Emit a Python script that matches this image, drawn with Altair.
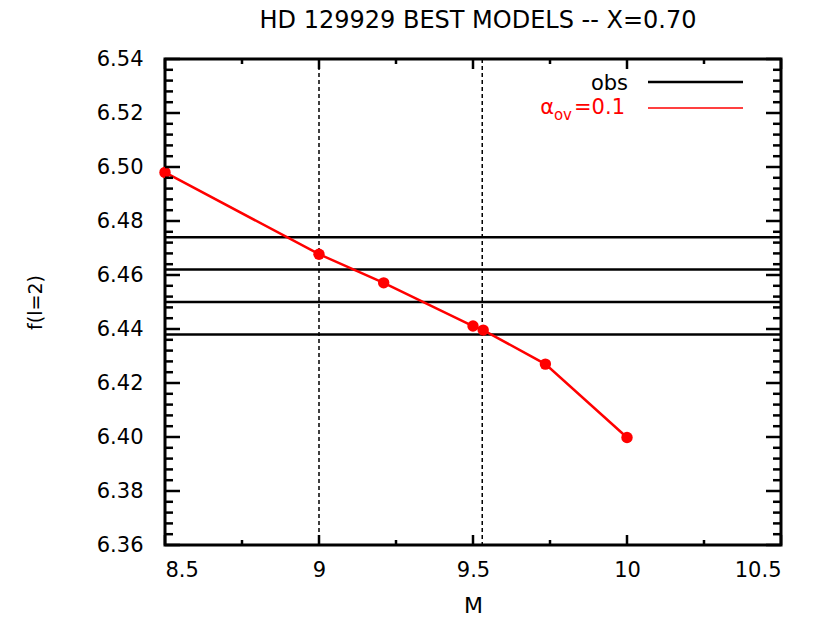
import altair as alt
import pandas as pd

# Model track: stellar mass vs. l=2 mode frequency
mass = [8.5, 9.0, 9.21, 9.50, 9.533, 9.735, 10.0]
freq = [6.498, 6.4677, 6.4571, 6.4411, 6.4396, 6.4270, 6.3998]

# Observed frequencies (horizontal lines)
obs_freq = [6.474, 6.462, 6.450, 6.438]

# Mass bounds (vertical dashed lines)
mass_bounds = [9.0, 9.53]

# Axis tick positions
x_major = [8.5, 9.0, 9.5, 10.0, 10.5]
x_minor = [8.75, 9.25, 9.75, 10.25]
y_major = [6.36, 6.38, 6.40, 6.42, 6.44, 6.46, 6.48, 6.50, 6.52, 6.54]
y_minor = [round(6.36 + 0.004 * i, 3) for i in range(46) if i % 5 != 0]

W, H = 616, 486
FONT = "DejaVu Sans"
RED = "#ff0000"

xs = alt.Scale(domain=[8.5, 10.5], nice=False, zero=False)
ys = alt.Scale(domain=[6.36, 6.54], nice=False, zero=False)

model = pd.DataFrame({"M": mass, "f": freq})
obs = pd.DataFrame({"f": obs_freq})
bounds = pd.DataFrame({"M": mass_bounds})

x_axis = alt.Axis(values=x_major, format="~g", grid=False, domain=False, ticks=False,
                  tickSize=0, labelPadding=14, labelFont=FONT, labelFontSize=21,
                  labelColor="black", title="M", titleFont=FONT, titleFontSize=22,
                  titleFontWeight="normal", titleColor="black", titleY=67,
                  titleBaseline="alphabetic")
y_axis = alt.Axis(values=y_major, format=".2f", grid=False, domain=False, ticks=False,
                  tickSize=0, labelPadding=22, labelFont=FONT, labelFontSize=21,
                  labelColor="black", title="f(l=2)", titleFont=FONT, titleFontSize=19,
                  titleFontWeight="normal", titleColor="black", titleAngle=270,
                  titleX=-130, titleY=H / 2, titleAlign="center", titleBaseline="middle")

obs_lines = alt.Chart(obs).mark_rule(color="black", strokeWidth=2.5).encode(
    y=alt.Y("f:Q", scale=ys, axis=y_axis),
)

dashed = alt.Chart(bounds).mark_rule(color="black", strokeWidth=1.5, strokeDash=[4, 3]).encode(
    x=alt.X("M:Q", scale=xs, axis=x_axis),
)

track = alt.Chart(model).mark_line(color=RED, strokeWidth=2.5).encode(
    x=alt.X("M:Q", scale=xs),
    y=alt.Y("f:Q", scale=ys),
)

dots = alt.Chart(model).mark_circle(color=RED, opacity=1, size=130).encode(
    x=alt.X("M:Q", scale=xs),
    y=alt.Y("f:Q", scale=ys),
)


def yticks(values, length):
    d = pd.DataFrame({"v": values})
    left = alt.Chart(d).mark_rule(color="black", strokeWidth=2.5).encode(
        y=alt.Y("v:Q", scale=ys), x=alt.value(0), x2=alt.value(length))
    right = alt.Chart(d).mark_rule(color="black", strokeWidth=2.5).encode(
        y=alt.Y("v:Q", scale=ys), x=alt.value(W), x2=alt.value(W - length))
    return [left, right]


def xticks(values, length):
    d = pd.DataFrame({"v": values})
    bottom = alt.Chart(d).mark_rule(color="black", strokeWidth=2.5).encode(
        x=alt.X("v:Q", scale=xs), y=alt.value(H), y2=alt.value(H - length))
    top = alt.Chart(d).mark_rule(color="black", strokeWidth=2.5).encode(
        x=alt.X("v:Q", scale=xs), y=alt.value(0), y2=alt.value(length))
    return [bottom, top]


ticks = yticks(y_major, 15) + yticks(y_minor, 8) + xticks(x_major, 10) + xticks(x_minor, 5)

one = pd.DataFrame({"k": [0]})

# Title above the frame
title = alt.Chart(one).mark_text(text="HD 129929 BEST MODELS -- X=0.70", font=FONT,
                                 fontSize=24, color="black", align="center",
                                 baseline="alphabetic").encode(
    x=alt.value(313), y=alt.value(-31))

# Key in the upper right corner
key = [
    alt.Chart(one).mark_text(text="obs", font=FONT, fontSize=21, color="black",
                             align="right", baseline="alphabetic").encode(
        x=alt.value(463), y=alt.value(31)),
    alt.Chart(one).mark_rule(color="black", strokeWidth=2.5).encode(
        x=alt.value(483), x2=alt.value(578), y=alt.value(23)),
    alt.Chart(one).mark_text(text="=0.1", font=FONT, fontSize=21, color=RED,
                             align="right", baseline="alphabetic").encode(
        x=alt.value(460), y=alt.value(55)),
    alt.Chart(one).mark_text(text="ov", font=FONT, fontSize=15, color=RED,
                             align="right", baseline="alphabetic").encode(
        x=alt.value(407), y=alt.value(61)),
    alt.Chart(one).mark_text(text="α", font=FONT, fontSize=21, color=RED,
                             align="right", baseline="alphabetic").encode(
        x=alt.value(389), y=alt.value(55)),
    alt.Chart(one).mark_rule(color=RED, strokeWidth=1.5).encode(
        x=alt.value(483), x2=alt.value(578), y=alt.value(49)),
]

chart = alt.layer(obs_lines, dashed, track, dots, *ticks, title, *key).properties(
    width=W,
    height=H,
    autosize=alt.AutoSizeParams(type="none"),
    padding={"left": 165, "top": 59, "right": 34, "bottom": 72},
    background="white",
).configure_view(stroke="black", strokeWidth=3)

chart.save("out.html", embed_options={"renderer": "svg", "actions": False})
